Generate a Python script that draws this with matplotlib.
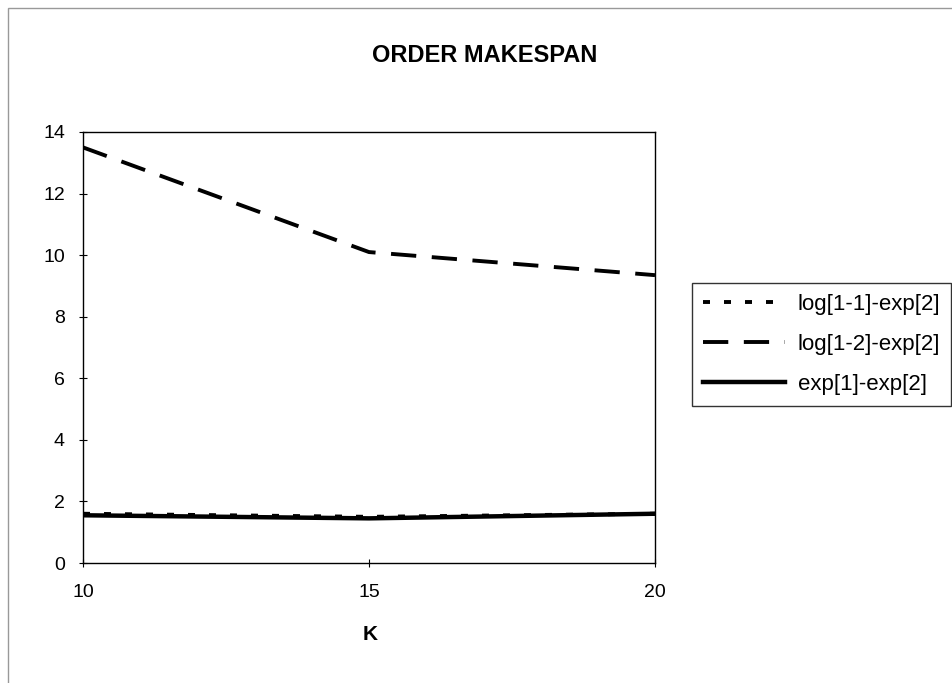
import matplotlib
matplotlib.use("Agg")
import matplotlib.pyplot as plt
from matplotlib.patches import Rectangle

plt.rcParams['font.family'] = ['Liberation Sans', 'DejaVu Sans']

k = [10, 15, 20]
log11_exp2 = [1.6, 1.5, 1.6]
log12_exp2 = [13.5, 10.1, 9.35]
exp1_exp2 = [1.55, 1.45, 1.6]
yticks = [0, 2, 4, 6, 8, 10, 12, 14]
xticks = [10, 15, 20]

fig = plt.figure(figsize=(9.53, 6.83), dpi=100)
fig.patches.append(Rectangle((8/953, -0.1), 1.2, 1.1 - 8/683, transform=fig.transFigure,
                             fill=False, edgecolor='#999999', linewidth=1.0))
ax = fig.add_axes([83/953, 1 - 563/683, (655 - 83)/953, (563 - 132)/683])

ax.plot(k, log11_exp2, color='black', linewidth=2.8, linestyle=(0, (1.8, 3.6)), label='log[1-1]-exp[2]')
ax.plot(k, log12_exp2, color='black', linewidth=2.8, linestyle=(0, (6.5, 4)), label='log[1-2]-exp[2]')
ax.plot(k, exp1_exp2, color='black', linewidth=3.2, linestyle='-', label='exp[1]-exp[2]')

ax.set_xlim(10, 20)
ax.set_ylim(0, 14)
ax.set_xticks(xticks)
ax.set_yticks(yticks)
ax.tick_params(direction='inout', length=6, width=0.8, labelsize=14)
ax.tick_params(axis='x', pad=12)
ax.tick_params(axis='y', pad=10)
for s in ax.spines.values():
    s.set_linewidth(1.0)

fig.text(485/953, 1 - 55/683, 'ORDER MAKESPAN', fontsize=17, fontweight='bold',
         ha='center', va='center')
fig.text(370/953, 1 - 634/683, 'K', fontsize=15, fontweight='bold', ha='center', va='center')

leg = ax.legend(loc='upper left', bbox_to_anchor=(692/953, 1 - 283/683), bbox_transform=fig.transFigure,
                fontsize=16, frameon=True, fancybox=False, edgecolor='black', handlelength=3.7,
                borderpad=0.5, labelspacing=0.85, handletextpad=0.55, borderaxespad=0)
leg.get_frame().set_linewidth(1.0)

fig.savefig('out.png', dpi=100)
